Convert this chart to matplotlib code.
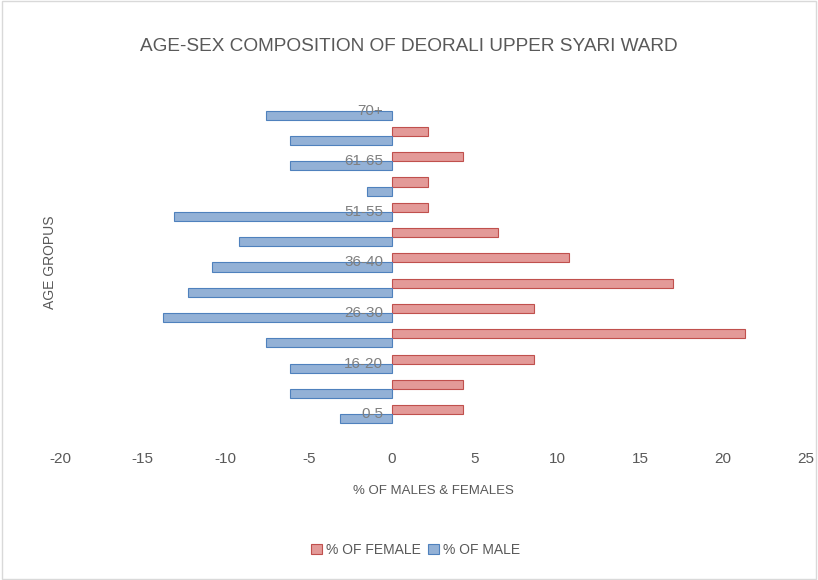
import matplotlib.pyplot as plt
import numpy as np

plt.rcParams['font.family'] = ['Liberation Sans Narrow', 'Liberation Sans', 'DejaVu Sans']
plt.rcParams['axes.unicode_minus'] = False

# Data
age_groups = ['0-5', '6-15', '16-20', '21-25', '26-30', '31-35', '36-40',
              '41-50', '51-55', '56-60', '61-65', '66-70', '70+']
female = [4.3, 4.3, 8.6, 21.3, 8.6, 17.0, 10.7, 6.4, 2.2, 2.2, 4.3, 2.2, 0]
male = [-3.1, -6.1, -6.1, -7.6, -13.8, -12.3, -10.8, -9.2, -13.1, -1.5, -6.1, -6.1, -7.6]

grey = '#595959'
fig = plt.figure(figsize=(8.18, 5.8), dpi=100)
ax = fig.add_axes([0.0733, 0.264, 0.912, 0.567])

y = np.arange(len(age_groups))
h = 0.36
ax.barh(y + h / 2, female, height=h, color='#e39a98', edgecolor='#c0504d',
        linewidth=[0 if v == 0 else 0.8 for v in female], label='% OF FEMALE')
ax.barh(y - h / 2, male, height=h, color='#93b1d6', edgecolor='#4f81bd',
        linewidth=[0 if v == 0 else 0.8 for v in male], label='% OF MALE')

# category labels next to the zero line, every other one
for i in range(0, len(age_groups), 2):
    ax.text(-0.5, y[i], age_groups[i], ha='right', va='center',
            fontsize=11, color='#7f7f7f')

ax.set_xlim(-20, 25)
ax.set_ylim(-0.5, len(age_groups) - 0.5)
ax.set_xticks(range(-20, 26, 5))
ax.set_yticks([])
ax.tick_params(axis='x', length=0, labelsize=11, labelcolor=grey, pad=18)
for s in ax.spines.values():
    s.set_visible(False)

ax.set_xlabel('% OF MALES & FEMALES', fontsize=9.5, color=grey, labelpad=14)
ax.set_ylabel('AGE GROPUS', fontsize=10, color=grey, labelpad=2)
fig.text(0.5, 0.92, 'AGE-SEX COMPOSITION OF DEORALI UPPER SYARI WARD',
         ha='center', va='center', fontsize=13.7, color=grey)

ax.legend(loc='center', bbox_to_anchor=(0.508, 0.052), bbox_transform=fig.transFigure,
          ncol=2, frameon=False, fontsize=10, labelcolor=grey,
          handlelength=0.8, handleheight=0.8, handletextpad=0.3, columnspacing=0.5)

fig.patches.append(plt.Rectangle((0.002, 0.002), 0.996, 0.996, transform=fig.transFigure,
                                 fill=False, edgecolor='#d9d9d9', linewidth=1))

plt.savefig('out.png')
